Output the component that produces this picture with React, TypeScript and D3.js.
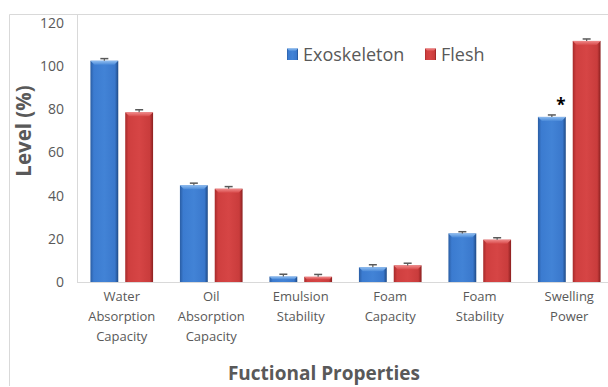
import React from "react";
import * as d3 from "d3";

const categories = [
  ["Water", "Absorption", "Capacity"],
  ["Oil", "Absorption", "Capacity"],
  ["Emulsion", "Stability"],
  ["Foam", "Capacity"],
  ["Foam", "Stability"],
  ["Swelling", "Power"],
];
const seriesNames = ["Exoskeleton", "Flesh"];
const exoskeleton = [102.5, 44.8, 2.5, 6.8, 22.5, 76.5];
const flesh = [78.6, 43.2, 2.4, 7.7, 19.6, 111.7];
const exoErr = [1.0, 1.0, 1.1, 1.2, 0.8, 0.9];
const fleshErr = [1.2, 1.0, 1.1, 1.0, 0.9, 0.9];
const yTicks = [0, 20, 40, 60, 80, 100, 120];
const significant = [false, false, false, false, false, true];

const W = 608;
const H = 387;
const plotLeft = 77;
const plotRight = 614;
const plotTop = 23;
const plotBottom = 282;

export default function App() {
  const x = d3
    .scaleBand<number>()
    .domain(d3.range(categories.length))
    .range([plotLeft, plotRight])
    .paddingInner(0.3)
    .paddingOuter(0.15);
  const xs = d3.scaleBand<number>().domain([0, 1]).range([0, x.bandwidth()]).paddingInner(0.2);
  const y = d3.scaleLinear().domain([0, 120]).range([plotBottom, plotTop]);

  const series = [
    { name: seriesNames[0], values: exoskeleton, err: exoErr, grad: "gBlue", top: "tBlue" },
    { name: seriesNames[1], values: flesh, err: fleshErr, grad: "gRed", top: "tRed" },
  ];
  const font = "'Open Sans', sans-serif";

  return (
    <svg width={W} height={H} style={{ position: "absolute", left: 0, top: 0 }}>
      <defs>
        <linearGradient id="gBlue" x1="0" x2="1" y1="0" y2="0">
          <stop offset="0" stopColor="#2a5da3" />
          <stop offset="0.12" stopColor="#3b7bd0" />
          <stop offset="0.5" stopColor="#4283d6" />
          <stop offset="0.88" stopColor="#3a78cc" />
          <stop offset="1" stopColor="#1f4a85" />
        </linearGradient>
        <linearGradient id="gRed" x1="0" x2="1" y1="0" y2="0">
          <stop offset="0" stopColor="#a62a2a" />
          <stop offset="0.12" stopColor="#cf3f3f" />
          <stop offset="0.5" stopColor="#d64545" />
          <stop offset="0.88" stopColor="#c93c3c" />
          <stop offset="1" stopColor="#8a1f1f" />
        </linearGradient>
        <linearGradient id="tBlue" x1="0" x2="0" y1="0" y2="1">
          <stop offset="0" stopColor="#8fbdf0" />
          <stop offset="1" stopColor="#4a8ad9" />
        </linearGradient>
        <linearGradient id="tRed" x1="0" x2="0" y1="0" y2="1">
          <stop offset="0" stopColor="#f08a8a" />
          <stop offset="1" stopColor="#d84a4a" />
        </linearGradient>
      </defs>
      <rect x={0} y={0} width={W} height={H} fill="#fff" />
      <line x1={9.5} x2={W} y1={14.5} y2={14.5} stroke="#d9d9d9" strokeWidth={1} />
      <line x1={9.5} x2={9.5} y1={14.5} y2={386} stroke="#d9d9d9" strokeWidth={1} />
      <line x1={plotLeft + 0.5} x2={plotLeft + 0.5} y1={14.5} y2={plotBottom} stroke="#d9d9d9" strokeWidth={1} />
      <line x1={plotLeft} x2={W} y1={plotBottom + 0.5} y2={plotBottom + 0.5} stroke="#d9d9d9" strokeWidth={1} />

      {yTicks.map((t) => (
        <text key={t} x={64} y={y(t)} dy="0.35em" textAnchor="end" fontFamily={font} fontSize={14} fill="#595959">
          {t}
        </text>
      ))}
      <text
        transform={`translate(31,131) rotate(-90)`}
        textAnchor="middle"
        fontFamily={font}
        fontSize={20.5}
        fontWeight="bold"
        fill="#595959"
      >
        Level (%)
      </text>

      {categories.map((_, i) =>
        series.map((s, j) => {
          const bx = (x(i) as number) + (xs(j) as number);
          const bw = xs.bandwidth();
          const v = s.values[i];
          const by = y(v);
          const bh = plotBottom - by;
          const bev = Math.min(4, bh / 2);
          const ex = bx + bw / 2;
          const ey = y(v + s.err[i]);
          return (
            <g key={`${i}-${j}`}>
              <rect x={bx} y={by} width={bw} height={bh} fill={`url(#${s.grad})`} />
              <path
                d={`M${bx},${by}L${bx + bw},${by}L${bx + bw - bev},${by + bev}L${bx + bev},${by + bev}Z`}
                fill={`url(#${s.top})`}
              />
              <line x1={ex} x2={ex} y1={ey} y2={by} stroke="#595959" strokeWidth={1.2} />
              <line x1={ex - 4} x2={ex + 4} y1={ey} y2={ey} stroke="#595959" strokeWidth={1.5} />
              {j === 0 && significant[i] && (
                <text x={ex + 9} y={ey - 4} textAnchor="middle" fontFamily={font} fontSize={17} fontWeight="bold" fill="#000">
                  *
                </text>
              )}
            </g>
          );
        })
      )}

      {categories.map((lines, i) => {
        const cx = (x(i) as number) + x.bandwidth() / 2;
        return (
          <text key={i} x={cx} textAnchor="middle" fontFamily={font} fontSize={13} fill="#595959">
            {lines.map((l, k) => (
              <tspan key={k} x={cx} y={301 + k * 20}>
                {l}
              </tspan>
            ))}
          </text>
        );
      })}
      <text x={324} y={380} textAnchor="middle" fontFamily={font} fontSize={19} fontWeight="bold" fill="#595959">
        Fuctional Properties
      </text>

      {series.map((s, j) => {
        const lx = j === 0 ? 287 : 425;
        return (
          <g key={s.name}>
            <rect x={lx} y={48.5} width={11} height={11.5} fill={`url(#${s.grad})`} />
            <path d={`M${lx},48.5L${lx + 11},48.5L${lx + 8.5},51L${lx + 2.5},51Z`} fill={`url(#${s.top})`} />
            <text x={lx + 16} y={61} fontFamily={font} fontSize={18} fill="#595959">
              {s.name}
            </text>
          </g>
        );
      })}
    </svg>
  );
}
